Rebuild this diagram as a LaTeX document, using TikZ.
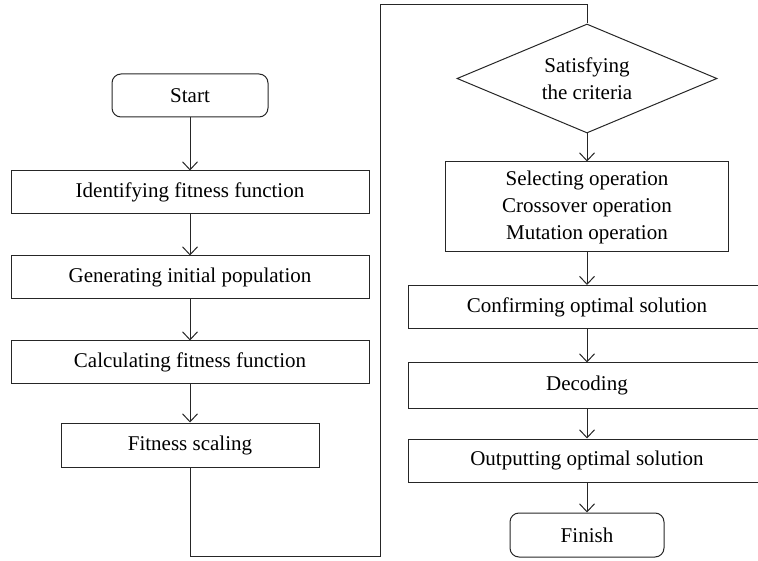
\documentclass[tikz,border=0pt]{standalone}
\usepackage{fontspec}
\setmainfont{Liberation Serif}
\usetikzlibrary{arrows.meta,shapes.geometric}
\begin{document}
\begin{tikzpicture}[x=1pt,y=-1pt,
  box/.style={draw=black!85, line width=1pt, rectangle, inner sep=0pt, align=center, font=\fontsize{21}{27}\selectfont},
  wide/.style={box, minimum width=358pt, minimum height=43pt},
  term/.style={box, rounded corners=9pt, minimum width=156pt, minimum height=43pt},
  cond/.style={box, diamond, shape aspect=2.4, minimum width=260pt, minimum height=109pt},
  arr/.style={draw=black!85, line width=1pt, -{Straight Barb[length=8pt,width=15pt]}},
  link/.style={draw=black!85, line width=1pt}]
\useasboundingbox (0,0) rectangle (758,561);
% left column
\node[term] (start) at (190,95.5) {Start};
\node[wide] (ident) at (190,192.5) {Identifying fitness function};
\node[wide] (gen) at (190,277.5) {Generating initial population};
\node[wide] (calc) at (190,362.5) {Calculating fitness function};
\node[box, minimum width=258pt, minimum height=44pt] (fit) at (190,445) {Fitness scaling};
% right column
\node[cond] (crit) at (587,78.5) {Satisfying\\the criteria};
\node[box, minimum width=283pt, minimum height=90pt] (sel) at (587,207) {Selecting operation\\Crossover operation\\Mutation operation};
\node[wide] (conf) at (587,307) {Confirming optimal solution};
\node[wide, minimum height=45pt] (dec) at (587,385.5) {Decoding};
\node[wide] (out) at (587,460.5) {Outputting optimal solution};
\node[term, minimum width=154pt, minimum height=44pt] (fin) at (587,535) {Finish};
% connectors
\draw[arr] (start) -- (ident);
\draw[arr] (ident) -- (gen);
\draw[arr] (gen) -- (calc);
\draw[arr] (calc) -- (fit);
\coordinate (l1) at (190,556);
\coordinate (l2) at (380,556);
\coordinate (l3) at (380,5);
\coordinate (l4) at (587,5);
\draw[link] (fit.south) -- (l1) -- (l2) -- (l3) -- (l4) -- (crit.north);
\draw[arr] (crit) -- (sel);
\draw[arr] (sel) -- (conf);
\draw[arr] (conf) -- (dec);
\draw[arr] (dec) -- (out);
\draw[arr] (out) -- (fin);
\end{tikzpicture}
\end{document}
